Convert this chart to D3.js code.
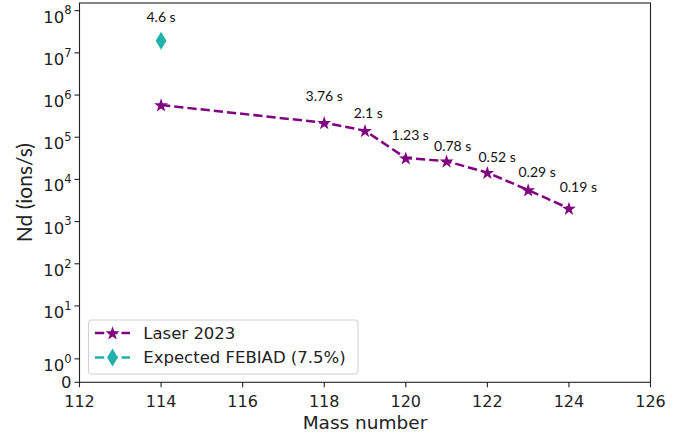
<!DOCTYPE html>
<html>
<head>
<meta charset="utf-8">
<script src="https://cdn.jsdelivr.net/npm/d3@7"></script>
<style>
  html, body { margin: 0; padding: 0; background: #fff; }
  svg { display: block; }
</style>
</head>
<body>
<svg id="chart" width="673" height="433"></svg>
<script>
// Nd yields per mass number
const laserMass = [114, 118, 119, 120, 121, 122, 123, 124];
const laserRate = [5.8e5, 2.2e5, 1.43e5, 3.2e4, 2.7e4, 1.45e4, 5.6e3, 2.05e3];

const febiadMass = [114];
const febiadRate = [1.94e7];

// half-life annotations
const halfLifeText = ["4.6 s", "3.76 s", "2.1 s", "1.23 s", "0.78 s", "0.52 s", "0.29 s", "0.19 s"];
const halfLifeX = [114.0, 118.0, 119.08, 120.11, 121.15, 122.24, 123.22, 124.23];
const halfLifeY = [7.1e7, 9.5e5, 3.75e5, 1.13e5, 6.0e4, 3.46e4, 1.52e4, 6.6e3];

const xTicks = [112, 114, 116, 118, 120, 122, 124, 126];
const yTicks = [0, 1, 1e1, 1e2, 1e3, 1e4, 1e5, 1e6, 1e7, 1e8];

const seriesNames = ["Laser 2023", "Expected FEBIAD (7.5%)"];

// plot area
const plotLeft = 79.5, plotRight = 650.5, plotTop = 3, plotBottom = 382.3;
const purple = "#800080", teal = "#20B2AA";

// symmetric-log transform: linear below linthresh, logarithmic above
const linthresh = 2, linscaleAdj = 1 / (1 - 0.1);
function symlog(v) {
  return v <= linthresh ? v * linscaleAdj / linthresh
                        : linscaleAdj + Math.log10(v / linthresh);
}

const x = d3.scaleLinear().domain([112, 126]).range([plotLeft, plotRight]);
const yLin = d3.scaleLinear().domain([symlog(0), symlog(1.52e8)]).range([plotBottom, plotTop]);
const y = v => yLin(symlog(v));

const svg = d3.select("#chart");

// axes frame
svg.append("rect")
  .attr("x", plotLeft).attr("y", plotTop)
  .attr("width", plotRight - plotLeft).attr("height", plotBottom - plotTop)
  .attr("fill", "none").attr("stroke", "#222").attr("stroke-width", 1.1);

// x axis
const xg = svg.append("g").attr("font-family", "DejaVu Sans").attr("font-size", 16).attr("fill", "#222");
xTicks.forEach(t => {
  xg.append("line").attr("x1", x(t)).attr("x2", x(t)).attr("y1", plotBottom).attr("y2", plotBottom + 5)
    .attr("stroke", "#222").attr("stroke-width", 1.1);
  xg.append("text").attr("x", x(t)).attr("y", plotBottom + 24.8).attr("text-anchor", "middle").text(t);
});

// y axis
const yg = svg.append("g").attr("font-family", "DejaVu Sans").attr("fill", "#222");
yTicks.forEach(t => {
  const py = y(t);
  yg.append("line").attr("x1", plotLeft - 5).attr("x2", plotLeft).attr("y1", py).attr("y2", py)
    .attr("stroke", "#222").attr("stroke-width", 1.1);
  if (t === 0) {
    yg.append("text").attr("x", 71.5).attr("y", py + 5.8).attr("text-anchor", "end")
      .attr("font-size", 16.5).text("0");
  } else {
    const txt = yg.append("text").attr("x", 71.5).attr("y", py + 12).attr("text-anchor", "end")
      .attr("font-size", 16.5);
    txt.append("tspan").text("10");
    txt.append("tspan").attr("dy", -8.2).attr("font-size", 11.5).text(Math.round(Math.log10(t)));
  }
});

// axis titles
svg.append("text").attr("x", (plotLeft + plotRight) / 2).attr("y", 428.5)
  .attr("text-anchor", "middle").attr("font-family", "DejaVu Sans").attr("font-size", 18.5)
  .attr("fill", "#222").text("Mass number");
svg.append("text")
  .attr("transform", `translate(32,${(plotTop + plotBottom) / 2}) rotate(-90)`)
  .attr("text-anchor", "middle").attr("font-family", "Lato").attr("font-size", 21)
  .attr("fill", "#222").text("Nd (ions/s)");

// markers
const starPath = d3.symbol().type(d3.symbolStar).size(60)();
function diamondPath(h) {
  const w = h * 0.3;
  return `M0,${-h / 2}L${w},0L0,${h / 2}L${-w},0Z`;
}

// laser series
const laserPts = laserMass.map((m, i) => [m, laserRate[i]]);
svg.append("path")
  .attr("d", d3.line().x(d => x(d[0])).y(d => y(d[1]))(laserPts))
  .attr("fill", "none").attr("stroke", purple).attr("stroke-width", 2.5)
  .attr("stroke-dasharray", "9.25,4");
svg.append("g").selectAll("path").data(laserPts).join("path")
  .attr("d", starPath)
  .attr("transform", d => `translate(${x(d[0])},${y(d[1]) + 0.6})`)
  .attr("fill", purple);

// FEBIAD expectation
const febiadPts = febiadMass.map((m, i) => [m, febiadRate[i]]);
svg.append("g").selectAll("path").data(febiadPts).join("path")
  .attr("d", diamondPath(18))
  .attr("transform", d => `translate(${x(d[0])},${y(d[1])})`)
  .attr("fill", teal);

// half-life labels
svg.append("g").selectAll("text").data(halfLifeText).join("text")
  .attr("x", (d, i) => x(halfLifeX[i]))
  .attr("y", (d, i) => y(halfLifeY[i]))
  .attr("dy", "0.35em")
  .attr("text-anchor", "middle")
  .attr("font-family", "Lato").attr("font-size", 14).attr("fill", "#111")
  .text(d => d);

// legend
const lg = svg.append("g");
lg.append("rect").attr("x", 88.5).attr("y", 320).attr("width", 269.5).attr("height", 54)
  .attr("rx", 3).attr("fill", "#fff").attr("fill-opacity", 0.8)
  .attr("stroke", "#d0d0d0").attr("stroke-width", 1);
const rows = [
  { name: seriesNames[0], color: purple, marker: starPath, dyMarker: 0.6, cy: 333 },
  { name: seriesNames[1], color: teal, marker: diamondPath(18), dyMarker: 0, cy: 357.5 }
];
rows.forEach(r => {
  lg.append("line").attr("x1", 95).attr("x2", 130).attr("y1", r.cy).attr("y2", r.cy)
    .attr("stroke", r.color).attr("stroke-width", 2.5).attr("stroke-dasharray", "9.25,4");
  lg.append("path").attr("d", r.marker).attr("transform", `translate(112.5,${r.cy + r.dyMarker})`)
    .attr("fill", r.color);
  lg.append("text").attr("x", 143.3).attr("y", r.cy).attr("dy", "0.36em")
    .attr("font-family", "DejaVu Sans").attr("font-size", 16.5).attr("fill", "#222")
    .text(r.name);
});
</script>
</body>
</html>
